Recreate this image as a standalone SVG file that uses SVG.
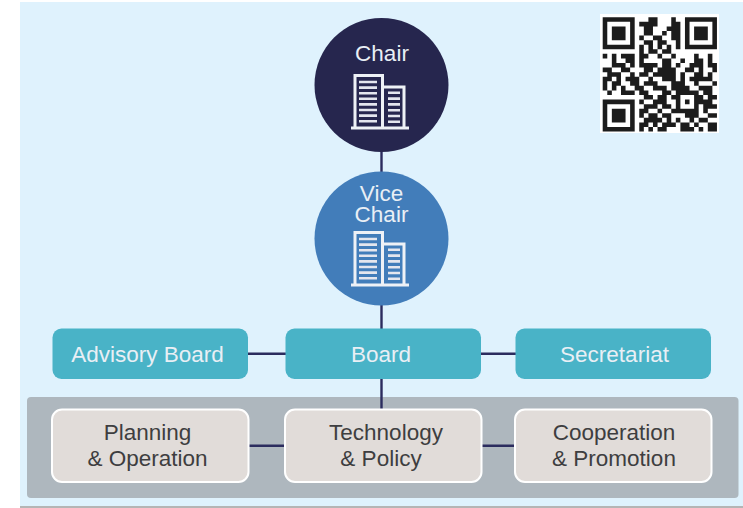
<svg xmlns="http://www.w3.org/2000/svg" xmlns:xlink="http://www.w3.org/1999/xlink" width="743" height="508" viewBox="0 0 743 508">
<style>
text{font-family:"Liberation Sans",Arial,sans-serif;font-size:22.5px;text-anchor:middle}
.w{fill:#e9eff5}
.d{fill:#3e3e40}
.t{fill:#49b3c7}
.g{fill:#e1dcd9;stroke:#fff;stroke-width:2}
.c{stroke:#2b2c5e;stroke-width:2.4;fill:none}
.b{fill:none;stroke:#eef1f6;stroke-width:3}
.l{stroke:#e4e6ee;stroke-width:2.6;fill:none}
</style>
<defs>
<g id="bld">
<path class="b" d="M355 128V75.500H382.500V128M382.500 87H404V128"/>
<path class="b" d="M351 128H409"/>
<path class="l" d="M359 82H377M359 87.600H377M359 93.200H377M359 98.800H377M359 104.400H377M359 110H377M359 115.600H377M359 121.200H377M388 92.800H400M388 98.600H400M388 104.400H400M388 110.200H400M388 116H400M388 121.800H400"/>
</g>
</defs>
<rect width="743" height="508" fill="#fff"/>
<rect x="20" y="506" width="723" height="2" fill="#b5b5b5"/>
<rect x="20" y="2" width="723" height="504" fill="#dff2fd"/>
<rect id="panel" x="27" y="397" width="711.500" height="101" rx="4" fill="#aeb7be"/>
<g id="connectors">
<path class="c" d="M381.500 150V173M381.500 303V330M248 353.700H286M481 353.700H516M381.500 378V410M249 445.700H285M482 445.700H515"/>
</g>
<g id="chair">
<circle cx="381.500" cy="85" r="67" fill="#26264e"/>
<text class="w" x="382" y="60.700">Chair</text>
<use xlink:href="#bld" href="#bld"/>
</g>
<g id="vice-chair">
<circle cx="381.500" cy="238.500" r="67" fill="#427dba"/>
<text class="w" y="200.700"><tspan x="381.500">Vice</tspan><tspan x="381.500" dy="21.600">Chair</tspan></text>
<use xlink:href="#bld" href="#bld" y="157"/>
</g>
<g id="advisory-board">
<rect class="t" x="52.500" y="328.500" width="195.500" height="50.500" rx="9"/>
<text class="w" x="147.500" y="361.700">Advisory Board</text>
</g>
<g id="board">
<rect class="t" x="285.500" y="328.500" width="195.500" height="50.500" rx="9"/>
<text class="w" x="381" y="361.700">Board</text>
</g>
<g id="secretariat">
<rect class="t" x="515.500" y="328.500" width="195.500" height="50.500" rx="9"/>
<text class="w" x="614.500" y="361.700">Secretariat</text>
</g>
<g id="planning">
<rect class="g" x="52" y="409.500" width="196.500" height="72.500" rx="10"/>
<text class="d" x="147.500" y="440">Planning</text>
<text class="d" x="147.500" y="466">&amp; Operation</text>
</g>
<g id="technology">
<rect class="g" x="285" y="409.500" width="196.500" height="72.500" rx="10"/>
<text class="d" x="386" y="440">Technology</text>
<text class="d" x="381" y="466">&amp; Policy</text>
</g>
<g id="cooperation">
<rect class="g" x="515" y="409.500" width="196.500" height="72.500" rx="10"/>
<text class="d" x="614" y="440">Cooperation</text>
<text class="d" x="614" y="466">&amp; Promotion</text>
</g>
<g id="qr">
<rect x="600" y="14" width="119" height="119" fill="#fff"/>
<path fill="#1c1c1c" transform="translate(602.700 17.300) scale(4.570)" d="M0 0h7v7h-7zM1 1v5h5v-5zM2 2h3v3h-3zM18 0h7v7h-7zM19 1v5h5v-5zM20 2h3v3h-3zM0 18h7v7h-7zM1 19v5h5v-5zM2 20h3v3h-3z
M10 0h2v1h-2zM15 0h1v1h-1z
M8 1h4v1h-4zM15 1h2v1h-2z
M9 2h2v1h-2zM14 2h3v1h-3z
M9 3h2v1h-2zM13 3h1v1h-1zM15 3h2v1h-2z
M8 4h1v1h-1zM11 4h2v1h-2zM15 4h2v1h-2z
M9 5h2v1h-2zM12 5h2v1h-2zM16 5h1v1h-1z
M8 6h1v1h-1zM10 6h1v1h-1zM12 6h1v1h-1zM14 6h1v1h-1zM16 6h1v1h-1z
M8 7h1v1h-1zM10 7h2v1h-2zM13 7h2v1h-2z
M0 8h1v1h-1zM2 8h1v1h-1zM4 8h3v1h-3zM8 8h2v1h-2zM12 8h1v1h-1zM15 8h1v1h-1zM20 8h1v1h-1zM23 8h1v1h-1z
M2 9h1v1h-1zM5 9h2v1h-2zM8 9h1v1h-1zM13 9h2v1h-2zM17 9h1v1h-1zM20 9h2v1h-2zM23 9h1v1h-1z
M2 10h3v1h-3zM6 10h1v1h-1zM8 10h4v1h-4zM13 10h2v1h-2zM16 10h1v1h-1zM19 10h3v1h-3zM23 10h2v1h-2z
M0 11h2v1h-2zM4 11h2v1h-2zM9 11h2v1h-2zM12 11h4v1h-4zM18 11h2v1h-2zM21 11h1v1h-1zM24 11h1v1h-1z
M1 12h3v1h-3zM6 12h1v1h-1zM8 12h2v1h-2zM11 12h5v1h-5zM17 12h1v1h-1zM20 12h2v1h-2zM23 12h1v1h-1z
M0 13h2v1h-2zM3 13h1v1h-1zM5 13h3v1h-3zM10 13h1v1h-1zM13 13h3v1h-3zM17 13h1v1h-1zM19 13h3v1h-3zM22 13h2v1h-2z
M0 14h1v1h-1zM2 14h2v1h-2zM6 14h2v1h-2zM9 14h3v1h-3zM15 14h3v1h-3zM20 14h1v1h-1zM24 14h1v1h-1z
M0 15h1v1h-1zM2 15h1v1h-1zM4 15h1v1h-1zM7 15h2v1h-2zM11 15h3v1h-3zM15 15h4v1h-4zM21 15h3v1h-3z
M1 16h1v1h-1zM4 16h2v1h-2zM6 16h1v1h-1zM8 16h2v1h-2zM13 16h2v1h-2zM16 16h5v1h-5zM22 16h2v1h-2z
M9 17h2v1h-2zM12 17h2v1h-2zM15 17h2v1h-2zM20 17h2v1h-2zM23 17h2v1h-2z
M8 18h1v1h-1zM11 18h3v1h-3zM16 18h1v1h-1zM18 18h1v1h-1zM20 18h4v1h-4z
M9 19h3v1h-3zM13 19h2v1h-2zM16 19h1v1h-1zM20 19h1v1h-1zM22 19h3v1h-3z
M8 20h2v1h-2zM12 20h1v1h-1zM15 20h6v1h-6zM22 20h1v1h-1z
M8 21h1v1h-1zM10 21h2v1h-2zM13 21h2v1h-2zM18 21h3v1h-3zM23 21h2v1h-2z
M9 22h4v1h-4zM14 22h1v1h-1zM16 22h1v1h-1zM19 22h1v1h-1zM21 22h2v1h-2z
M8 23h2v1h-2zM11 23h1v1h-1zM13 23h3v1h-3zM17 23h2v1h-2zM20 23h1v1h-1zM23 23h2v1h-2z
M8 24h1v1h-1zM10 24h1v1h-1zM12 24h2v1h-2zM17 24h3v1h-3zM21 24h1v1h-1zM23 24h2v1h-2z" fill-rule="evenodd"/>
</g>
</svg>
